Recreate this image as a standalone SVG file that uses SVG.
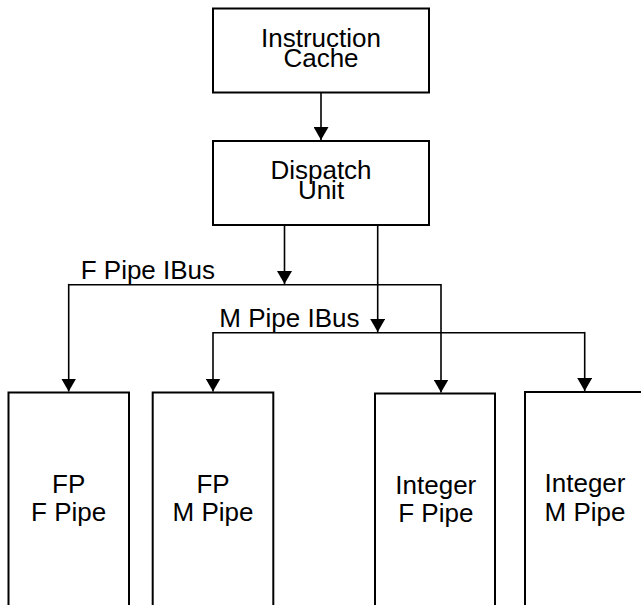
<svg xmlns="http://www.w3.org/2000/svg" width="641" height="605" viewBox="0 0 641 605">
  <style>
    .box { fill: #ffffff; stroke: #000000; stroke-width: 2; }
    .lbl { font-family: "Liberation Sans", Arial, sans-serif; font-size: 26px; fill: #000000; text-anchor: middle; }
    .bus { font-family: "Liberation Sans", Arial, sans-serif; font-size: 26px; fill: #000000; }
    .wire { fill: none; stroke: #000000; stroke-width: 1.6; }
  </style>
  <defs>
    <marker id="arrow" markerUnits="userSpaceOnUse" markerWidth="13" markerHeight="15" viewBox="0 0 13 15" refX="13" refY="7.5" orient="auto">
      <path d="M0,0 L13,7.5 L0,15 z" fill="#000000"/>
    </marker>
  </defs>
  <rect width="641" height="605" fill="#ffffff"/>

  <g id="connectors">
    <line class="wire" x1="321" y1="92.5" x2="321" y2="140" marker-end="url(#arrow)"/>
    <line class="wire" x1="284.5" y1="225" x2="284.5" y2="284" marker-end="url(#arrow)"/>
    <line class="wire" x1="377.7" y1="225" x2="377.7" y2="332" marker-end="url(#arrow)"/>
    <line class="wire" x1="68.7" y1="284.7" x2="441" y2="284.7"/>
    <line class="wire" x1="68.7" y1="283.9" x2="68.7" y2="391.5" marker-end="url(#arrow)"/>
    <line class="wire" x1="441" y1="283.9" x2="441" y2="392.5" marker-end="url(#arrow)"/>
    <line class="wire" x1="213" y1="332.7" x2="584.7" y2="332.7"/>
    <line class="wire" x1="213" y1="331.9" x2="213" y2="391.5" marker-end="url(#arrow)"/>
    <line class="wire" x1="584.7" y1="331.9" x2="584.7" y2="391" marker-end="url(#arrow)"/>
    <text class="bus" x="80.7" y="279.3">F Pipe IBus</text>
    <text class="bus" x="219.3" y="327.3">M Pipe IBus</text>
  </g>

  <g id="instruction-cache">
    <rect class="box" x="213" y="8.5" width="216" height="84"/>
    <text class="lbl" x="321" y="47.3">Instruction<tspan x="321" dy="20">Cache</tspan></text>
  </g>

  <g id="dispatch-unit">
    <rect class="box" x="213" y="141" width="216" height="84"/>
    <text class="lbl" x="321" y="179">Dispatch<tspan x="321" dy="20">Unit</tspan></text>
  </g>

  <g id="fp-f-pipe">
    <rect class="box" x="8.5" y="392.5" width="120.5" height="230"/>
    <text class="lbl" x="68.7" y="492.5">FP<tspan x="68.7" dy="28.5">F Pipe</tspan></text>
  </g>

  <g id="fp-m-pipe">
    <rect class="box" x="152.7" y="392.5" width="120.6" height="230"/>
    <text class="lbl" x="213" y="492.5">FP<tspan x="213" dy="28.5">M Pipe</tspan></text>
  </g>

  <g id="integer-f-pipe">
    <rect class="box" x="375" y="393.5" width="120" height="230"/>
    <text class="lbl" x="435.8" y="494.3">Integer<tspan x="435.8" dy="27.7">F Pipe</tspan></text>
  </g>

  <g id="integer-m-pipe">
    <rect class="box" x="525" y="392" width="120" height="230"/>
    <text class="lbl" x="585" y="492">Integer<tspan x="585" dy="29">M Pipe</tspan></text>
  </g>
</svg>
